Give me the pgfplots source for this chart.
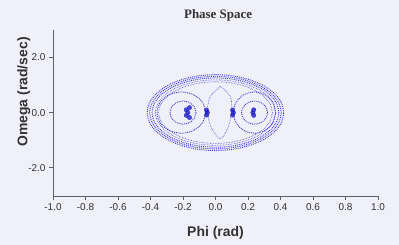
\documentclass[border=0pt]{standalone}
\usepackage{fontspec}
\setmainfont{Liberation Sans}
\newfontfamily\serifb{Liberation Serif}
\usepackage{pgfplots}
\pgfplotsset{compat=1.18}
\definecolor{bg}{RGB}{240,240,250}
\definecolor{pts}{RGB}{55,55,225}
\definecolor{ptsd}{RGB}{30,30,200}
\definecolor{axc}{RGB}{95,95,105}
\definecolor{txt}{RGB}{50,50,50}
\tikzset{ring/.style={pts, densely dotted, line width=0.9pt, smooth, mark=none}}
\begin{document}
\begin{tikzpicture}[x=1bp,y=1bp]
\fill[bg] (0,0) rectangle (399,245);
\path[use as bounding box] (0,0) rectangle (399,245);
\begin{axis}[
  at={(53bp,49bp)}, anchor=south west,
  width=325bp, height=166bp, scale only axis,
  xmin=-1, xmax=1, ymin=-3.03, ymax=3,
  axis x line*=bottom, axis y line*=left,
  axis line style={-, draw=axc, line width=0.8pt},
  xtick={-1,-0.8,-0.6,-0.4,-0.2,0,0.2,0.4,0.6,0.8,1},
  xticklabels={-1.0,-0.8,-0.6,-0.4,-0.2,0.0,0.2,0.4,0.6,0.8,1.0},
  ytick={-2,0,2},
  yticklabels={-2.0,0.0,2.0},
  tick align=outside, major tick length=4bp,
  tick style={draw=axc, line width=0.7pt},
  tick label style={font=\fontsize{10}{11}\selectfont, text=txt},
  xlabel={Phi (rad)}, ylabel={Omega (rad/sec)},
  xlabel style={at={(axis description cs:0.5,-0.223)}, anchor=center, font=\bfseries\fontsize{14}{15}\selectfont, text=txt},
  ylabel style={at={(axis description cs:-0.09,0.627)}, anchor=center, rotate=0, font=\bfseries\fontsize{14}{15}\selectfont, text=txt},
  title={Phase Space},
  title style={at={(axis description cs:0.508,1.05)}, anchor=center, font=\serifb\bfseries\fontsize{13}{14}\selectfont, text=txt},
  clip=false,
]
% outer ellipses
\addplot[ring] coordinates {(0.42,0) (0.406,0.357) (0.364,0.69) (0.297,0.976) (0.21,1.195) (0.109,1.333) (0,1.38) (-0.109,1.333) (-0.21,1.195) (-0.297,0.976) (-0.364,0.69) (-0.406,0.357) (-0.42,0) (-0.406,-0.357) (-0.364,-0.69) (-0.297,-0.976) (-0.21,-1.195) (-0.109,-1.333) (0,-1.38) (0.109,-1.333) (0.21,-1.195) (0.297,-0.976) (0.364,-0.69) (0.406,-0.357) (0.42,0)};
\addplot[ring] coordinates {(0.405,0) (0.391,0.342) (0.351,0.66) (0.286,0.933) (0.203,1.143) (0.105,1.275) (0,1.32) (-0.105,1.275) (-0.203,1.143) (-0.286,0.933) (-0.351,0.66) (-0.391,0.342) (-0.405,0) (-0.391,-0.342) (-0.351,-0.66) (-0.286,-0.933) (-0.203,-1.143) (-0.105,-1.275) (0,-1.32) (0.105,-1.275) (0.203,-1.143) (0.286,-0.933) (0.351,-0.66) (0.391,-0.342) (0.405,0)};
\addplot[ring] coordinates {(0.39,0) (0.377,0.326) (0.338,0.63) (0.276,0.891) (0.195,1.091) (0.101,1.217) (0,1.26) (-0.101,1.217) (-0.195,1.091) (-0.276,0.891) (-0.338,0.63) (-0.377,0.326) (-0.39,0) (-0.377,-0.326) (-0.338,-0.63) (-0.276,-0.891) (-0.195,-1.091) (-0.101,-1.217) (0,-1.26) (0.101,-1.217) (0.195,-1.091) (0.276,-0.891) (0.338,-0.63) (0.377,-0.326) (0.39,0)};
\addplot[ring, line width=0.6pt] coordinates {(0.37,0) (0.357,0.308) (0.32,0.595) (0.262,0.841) (0.185,1.031) (0.096,1.149) (0,1.19) (-0.096,1.149) (-0.185,1.031) (-0.262,0.841) (-0.32,0.595) (-0.357,0.308) (-0.37,0) (-0.357,-0.308) (-0.32,-0.595) (-0.262,-0.841) (-0.185,-1.031) (-0.096,-1.149) (0,-1.19) (0.096,-1.149) (0.185,-1.031) (0.262,-0.841) (0.32,-0.595) (0.357,-0.308) (0.37,0)};
\addplot[ring, line width=0.6pt] coordinates {(0.35,0) (0.338,0.29) (0.303,0.56) (0.247,0.792) (0.175,0.97) (0.091,1.082) (0,1.12) (-0.091,1.082) (-0.175,0.97) (-0.247,0.792) (-0.303,0.56) (-0.338,0.29) (-0.35,0) (-0.338,-0.29) (-0.303,-0.56) (-0.247,-0.792) (-0.175,-0.97) (-0.091,-1.082) (0,-1.12) (0.091,-1.082) (0.175,-0.97) (0.247,-0.792) (0.303,-0.56) (0.338,-0.29) (0.35,0)};
% left rings
\addplot[ring] coordinates {(-0.06,0) (-0.08,0.375) (-0.135,0.65) (-0.21,0.75) (-0.285,0.65) (-0.34,0.375) (-0.36,0) (-0.34,-0.375) (-0.285,-0.65) (-0.21,-0.75) (-0.135,-0.65) (-0.08,-0.375) (-0.06,0)};
\addplot[ring] coordinates {(-0.12,0) (-0.131,0.21) (-0.16,0.364) (-0.2,0.42) (-0.24,0.364) (-0.269,0.21) (-0.28,0) (-0.269,-0.21) (-0.24,-0.364) (-0.2,-0.42) (-0.16,-0.364) (-0.131,-0.21) (-0.12,0)};
% right rings
\addplot[ring] coordinates {(0.37,0) (0.353,0.375) (0.305,0.65) (0.24,0.75) (0.175,0.65) (0.127,0.375) (0.11,0) (0.127,-0.375) (0.175,-0.65) (0.24,-0.75) (0.305,-0.65) (0.353,-0.375) (0.37,0)};
\addplot[ring] coordinates {(0.32,0) (0.309,0.21) (0.28,0.364) (0.24,0.42) (0.2,0.364) (0.171,0.21) (0.16,0) (0.171,-0.21) (0.2,-0.364) (0.24,-0.42) (0.28,-0.364) (0.309,-0.21) (0.32,0)};
% middle lens
\addplot[ring, line width=0.6pt] coordinates {(0.03,0.95) (0.09,0.6) (0.1,0.1) (0.08,-0.5) (0.03,-0.95) (-0.03,-0.5) (-0.05,0.1) (-0.03,0.6) (0.03,0.95)};
% dense blobs
\addplot[only marks, mark=*, mark size=2.2pt, ptsd, opacity=0.8] coordinates {
(-0.17,0) (-0.18,0.1) (-0.18,-0.1) (-0.16,0.18) (-0.16,-0.18)
(-0.05,0) (-0.055,0.09) (-0.055,-0.09)
(0.11,0) (0.105,0.09) (0.105,-0.09)
(0.23,0) (0.235,0.1) (0.235,-0.1)};
\end{axis}
\end{tikzpicture}
\end{document}
